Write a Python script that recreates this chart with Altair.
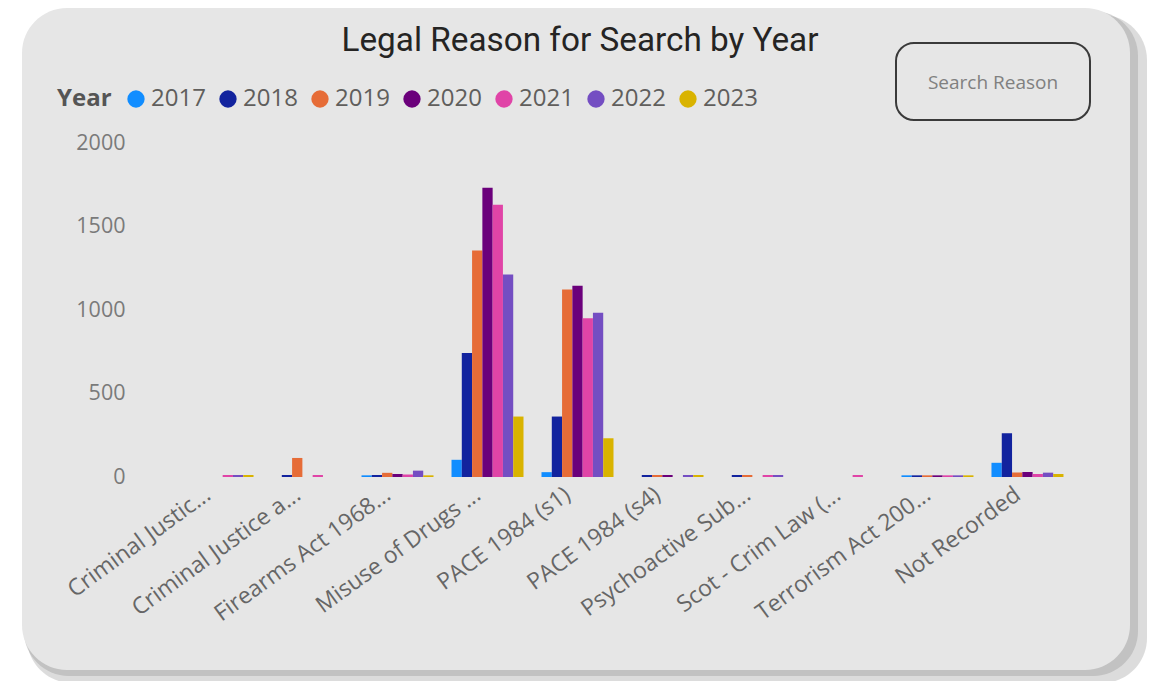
import altair as alt
import pandas as pd

categories = ["Criminal Justic...", "Criminal Justice a...", "Firearms Act 1968...",
              "Misuse of Drugs ...", "PACE 1984 (s1)", "PACE 1984 (s4)",
              "Psychoactive Sub...", "Scot - Crim Law (...", "Terrorism Act 200...",
              "Not Recorded"]
years = ["2017", "2018", "2019", "2020", "2021", "2022", "2023"]
colors = ["#118DFF", "#12239E", "#E66C37", "#6B007B", "#E044A7", "#744EC2", "#D9B300"]

v2017 = [0, 0, 10, 103, 29, 0, 0, 0, 10, 85]
v2018 = [0, 12, 12, 742, 362, 12, 12, 0, 10, 262]
v2019 = [0, 114, 25, 1357, 1123, 12, 12, 0, 10, 27]
v2020 = [0, 0, 18, 1732, 1145, 12, 0, 0, 10, 30]
v2021 = [12, 12, 15, 1630, 951, 0, 12, 12, 10, 18]
v2022 = [12, 0, 38, 1213, 983, 12, 12, 0, 10, 26]
v2023 = [12, 0, 10, 362, 232, 12, 0, 0, 10, 18]

series = [v2017, v2018, v2019, v2020, v2021, v2022, v2023]
rows = []
for y, vals in zip(years, series):
    for c, v in zip(categories, vals):
        if v > 0:
            rows.append({"Reason": c, "Year": y, "Count": v})
df = pd.DataFrame(rows)

one = pd.DataFrame({"a": [0]})

shadow2 = alt.Chart(one).mark_rect(cornerRadius=45, color="#9a9a9a", opacity=0.35).encode(
    x=alt.value(-108), x2=alt.value(1012), y=alt.value(-128), y2=alt.value(540))
shadow1 = alt.Chart(one).mark_rect(cornerRadius=45, color="#a8a8a8", opacity=0.5).encode(
    x=alt.value(-111), x2=alt.value(1003), y=alt.value(-132), y2=alt.value(533))
card = alt.Chart(one).mark_rect(cornerRadius=45, color="#e6e6e6").encode(
    x=alt.value(-113), x2=alt.value(995), y=alt.value(-135), y2=alt.value(527))

bars = alt.Chart(df).mark_bar().encode(
    x=alt.X("Reason:N", sort=categories, title=None,
            scale=alt.Scale(paddingInner=0.2, paddingOuter=0.517),
            axis=alt.Axis(labelAngle=-36, labelFont="Open Sans", labelFontSize=23,
                          labelColor="#666666", domain=False, ticks=False,
                          labelPadding=6, labelOffset=-16, labelLimit=300, zindex=2)),
    xOffset=alt.XOffset("Year:N", sort=years, scale=alt.Scale(paddingInner=0, paddingOuter=0)),
    y=alt.Y("Count:Q", title=None, scale=alt.Scale(domain=[0, 2000], nice=False),
            axis=alt.Axis(values=[0, 500, 1000, 1500, 2000], format="d", grid=False,
                          domain=False, ticks=False, labelFont="Open Sans",
                          labelFontSize=21.5, labelColor="#7a7a7a", labelPadding=10,
                          zindex=2)),
    color=alt.Color("Year:N", sort=years,
                    scale=alt.Scale(domain=years, range=colors),
                    legend=alt.Legend(orient="none", legendX=-78, legendY=-56,
                                      direction="horizontal", titleOrient="left",
                                      title="Year", titleFont="Open Sans",
                                      titleFontWeight="bold", titleFontSize=24,
                                      titleColor="#555555", titleBaseline="middle",
                                      labelFont="Open Sans", labelFontSize=24,
                                      labelColor="#605E5C", symbolType="circle",
                                      symbolSize=300, symbolStrokeWidth=0,
                                      symbolOpacity=1, columnPadding=10,
                                      labelOffset=3, titlePadding=12, zindex=2)),
)

button = alt.Chart(one).mark_rect(cornerRadius=18, fill="#e6e6e6", stroke="#3a3a3a",
                                  strokeWidth=2).encode(
    x=alt.value(761), x2=alt.value(955), y=alt.value(-100), y2=alt.value(-23))
button_text = alt.Chart(one).mark_text(text="Search Reason", font="Open Sans", fontSize=19,
                                       color="#808080", align="center",
                                       baseline="middle").encode(
    x=alt.value(858), y=alt.value(-60))
title = alt.Chart(one).mark_text(text="Legal Reason for Search by Year", font="Roboto",
                                 fontSize=33.3, color="#252423",
                                 align="center", baseline="middle").encode(
    x=alt.value(445), y=alt.value(-102))

chart = alt.layer(shadow2, shadow1, card, bars, button, button_text, title).properties(
    width=975, height=334,
    autosize=alt.AutoSizeParams(type="none"),
    padding={"left": 127, "top": 135, "right": 45, "bottom": 204},
    background="#ffffff",
).configure_view(stroke=None)

chart.save("out.html", embed_options={"renderer": "svg", "actions": False})
